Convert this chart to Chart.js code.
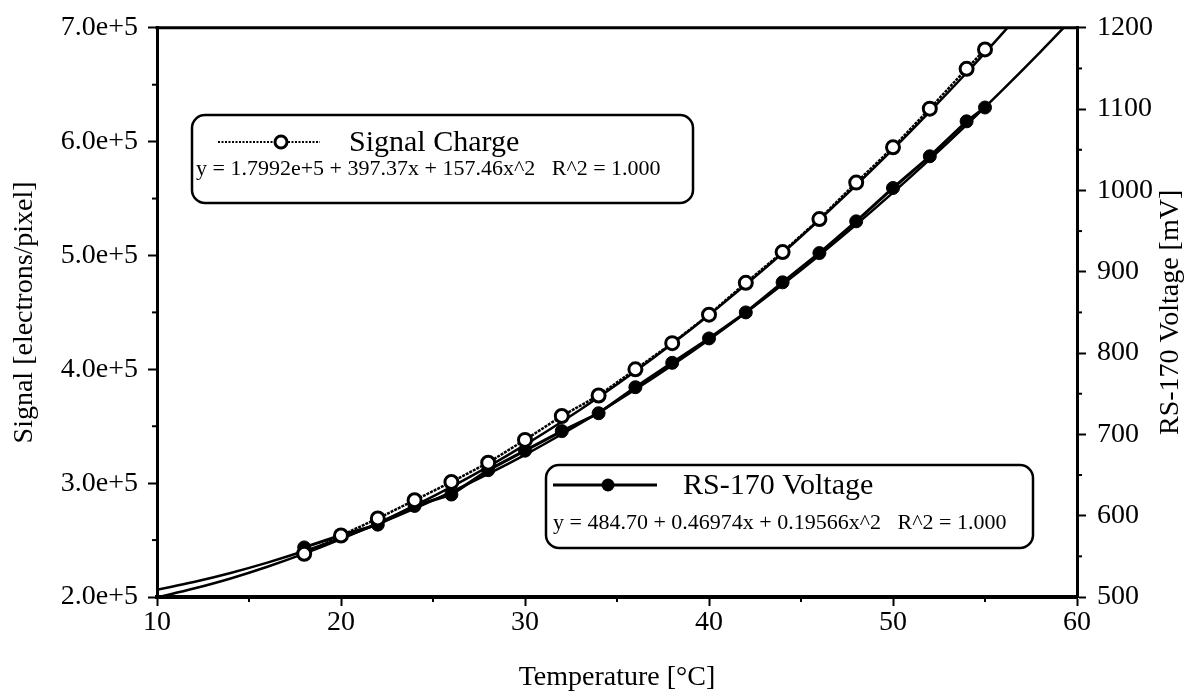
<!DOCTYPE html>
<html>
<head>
<meta charset="utf-8">
<script src="https://cdn.jsdelivr.net/npm/chart.js@4/dist/chart.umd.min.js"></script>
<style>
  html, body { margin: 0; padding: 0; background: #fff; }
  #wrap { width: 1188px; height: 694px; }
</style>
</head>
<body>
<div id="wrap"><canvas id="chart" width="1188" height="694"></canvas></div>
<script>
// Measured temperatures [°C]
const temps = [18, 20, 22, 24, 26, 28, 30, 32, 34, 36, 38, 40, 42, 44, 46, 48, 50, 52, 54, 55];
// Signal charge [electrons/pixel]
const signalCharge = [238000, 254000, 269000, 285000, 301000, 318000, 338000, 359000, 377000, 400000,
                      423000, 448000, 476000, 503000, 532000, 564000, 595000, 629000, 664000, 681000];
// RS-170 output voltage [mV]
const rs170Voltage = [561, 576, 589, 612, 626, 656, 680, 704, 726, 758,
                      788, 818, 850, 887, 923, 962, 1003, 1042, 1085, 1102];

// Quadratic fit curves
const fitTemps = [10, 12, 14, 16, 18, 20, 22, 24, 26, 28, 30, 32, 34, 36, 38, 40, 42, 44, 46, 48, 50, 52, 54, 56, 58, 60];
const signalFit = [199600, 207400, 216300, 226600, 238100, 250900, 264900, 280200, 296700, 314500,
                   333600, 353900, 375500, 398300, 422400, 447800, 474400, 502200, 531400, 561800,
                   593400, 626400, 660500, 696000, 732700, 770600];
const rs170Fit = [509.0, 518.5, 529.6, 542.3, 556.5, 572.4, 589.7, 608.7, 629.2, 651.3,
                  674.9, 700.1, 726.9, 755.2, 785.1, 816.5, 849.6, 884.2, 920.3, 958.0,
                  997.3, 1038.2, 1080.6, 1124.6, 1170.2, 1217.3];

// Axis ranges and labelled ticks
const xRange = [10, 60];
const xMajorTicks = [10, 20, 30, 40, 50, 60];
const signalRange = [200000, 700000];
const signalTickLabels = ['2.0e+5', '3.0e+5', '4.0e+5', '5.0e+5', '6.0e+5', '7.0e+5'];
const voltageRange = [500, 1200];
const voltageMajorTicks = [500, 600, 700, 800, 900, 1000, 1100, 1200];

// Texts
const xTitle = 'Temperature [°C]';
const leftTitle = 'Signal [electrons/pixel]';
const rightTitle = 'RS-170 Voltage [mV]';
const signalLegendTitle = 'Signal Charge';
const signalLegendEq = 'y = 1.7992e+5 + 397.37x + 157.46x^2   R^2 = 1.000';
const rsLegendTitle = 'RS-170 Voltage';
const rsLegendEq = 'y = 484.70 + 0.46974x + 0.19566x^2   R^2 = 1.000';

const SERIF = '"Liberation Serif", "Times New Roman", Times, serif';
const INK = '#000';

const toXY = (xs, ys) => xs.map((x, i) => ({ x: x, y: ys[i] }));

// Short minor ticks outside the frame, the top frame line and the right-hand axis title
const frameAndMinorTicks = {
  id: 'frameAndMinorTicks',
  afterDraw(chart) {
    const { ctx, chartArea: a, scales } = chart;
    ctx.save();
    ctx.strokeStyle = INK;
    ctx.lineWidth = 2;
    const minor = 5;
    scales.x.ticks.forEach(t => {
      if (xMajorTicks.includes(t.value)) return;
      const px = scales.x.getPixelForValue(t.value);
      ctx.beginPath(); ctx.moveTo(px, a.bottom); ctx.lineTo(px, a.bottom + minor); ctx.stroke();
    });
    scales.y.ticks.forEach(t => {
      if (t.value % 100000 === 0) return;
      const py = scales.y.getPixelForValue(t.value);
      ctx.beginPath(); ctx.moveTo(a.left, py); ctx.lineTo(a.left - minor, py); ctx.stroke();
    });
    scales.y1.ticks.forEach(t => {
      if (voltageMajorTicks.includes(t.value)) return;
      const py = scales.y1.getPixelForValue(t.value);
      ctx.beginPath(); ctx.moveTo(a.right, py); ctx.lineTo(a.right + minor, py); ctx.stroke();
    });
    // top frame line
    ctx.lineWidth = 3;
    ctx.beginPath(); ctx.moveTo(a.left - 1.5, a.top); ctx.lineTo(a.right + 1.5, a.top); ctx.stroke();

    // right axis title, reading upwards
    ctx.fillStyle = INK;
    ctx.font = '28px ' + SERIF;
    ctx.textAlign = 'center';
    ctx.textBaseline = 'middle';
    ctx.translate(scales.y1.right - 17, (a.top + a.bottom) / 2);
    ctx.rotate(-Math.PI / 2);
    ctx.fillText(rightTitle, 0, 0);
    ctx.restore();
  }
};

// Boxed legends with the fitted equations
function roundRect(ctx, x, y, w, h, r) {
  ctx.beginPath();
  ctx.moveTo(x + r, y);
  ctx.lineTo(x + w - r, y);
  ctx.arcTo(x + w, y, x + w, y + r, r);
  ctx.lineTo(x + w, y + h - r);
  ctx.arcTo(x + w, y + h, x + w - r, y + h, r);
  ctx.lineTo(x + r, y + h);
  ctx.arcTo(x, y + h, x, y + h - r, r);
  ctx.lineTo(x, y + r);
  ctx.arcTo(x, y, x + r, y, r);
  ctx.closePath();
}

const fitLegends = {
  id: 'fitLegends',
  afterDraw(chart) {
    const ctx = chart.ctx;
    ctx.save();
    ctx.strokeStyle = INK;
    ctx.fillStyle = INK;
    ctx.textBaseline = 'middle';
    ctx.textAlign = 'left';

    // Signal Charge box
    ctx.lineWidth = 2.5;
    roundRect(ctx, 192, 115, 501, 88, 13);
    ctx.fillStyle = '#fff'; ctx.fill(); ctx.fillStyle = INK; ctx.stroke();
    ctx.lineWidth = 2;
    ctx.setLineDash([2, 1.5]);
    ctx.beginPath(); ctx.moveTo(218, 142); ctx.lineTo(320, 142); ctx.stroke();
    ctx.setLineDash([]);
    ctx.lineWidth = 3;
    ctx.beginPath(); ctx.arc(281, 142, 6, 0, Math.PI * 2);
    ctx.fillStyle = '#fff'; ctx.fill(); ctx.stroke(); ctx.fillStyle = INK;
    ctx.font = '30px ' + SERIF;
    ctx.fillText(signalLegendTitle, 349, 143);
    ctx.font = '22px ' + SERIF;
    ctx.fillText(signalLegendEq, 196, 169);

    // RS-170 Voltage box
    ctx.lineWidth = 2.5;
    roundRect(ctx, 546, 465, 487, 83, 13);
    ctx.fillStyle = '#fff'; ctx.fill(); ctx.fillStyle = INK; ctx.stroke();
    ctx.lineWidth = 3;
    ctx.beginPath(); ctx.moveTo(553, 485); ctx.lineTo(657, 485); ctx.stroke();
    ctx.beginPath(); ctx.arc(608, 485, 6.5, 0, Math.PI * 2); ctx.fill();
    ctx.font = '30px ' + SERIF;
    ctx.fillText(rsLegendTitle, 683, 486);
    ctx.font = '22px ' + SERIF;
    ctx.fillText(rsLegendEq, 553, 523);
    ctx.restore();
  }
};

new Chart(document.getElementById('chart'), {
  type: 'scatter',
  data: {
    datasets: [
      {
        label: signalLegendTitle,
        data: toXY(temps, signalCharge),
        yAxisID: 'y',
        showLine: true,
        borderColor: INK,
        borderWidth: 2.5,
        borderDash: [3, 1],
        pointStyle: 'circle',
        pointRadius: 6.5,
        pointBorderWidth: 3,
        pointBorderColor: INK,
        pointBackgroundColor: '#fff',
        tension: 0
      },
      {
        label: rsLegendTitle,
        data: toXY(temps, rs170Voltage),
        yAxisID: 'y1',
        showLine: true,
        borderColor: INK,
        borderWidth: 3,
        pointStyle: 'circle',
        pointRadius: 6.5,
        pointBorderWidth: 1,
        pointBorderColor: INK,
        pointBackgroundColor: INK,
        tension: 0
      },
      {
        label: 'Signal Charge fit',
        data: toXY(fitTemps, signalFit),
        yAxisID: 'y',
        showLine: true,
        borderColor: INK,
        borderWidth: 2.5,
        pointRadius: 0,
        tension: 0.4
      },
      {
        label: 'RS-170 Voltage fit',
        data: toXY(fitTemps, rs170Fit),
        yAxisID: 'y1',
        showLine: true,
        borderColor: INK,
        borderWidth: 2.5,
        pointRadius: 0,
        tension: 0.4
      }
    ]
  },
  options: {
    responsive: false,
    animation: false,
    devicePixelRatio: 1,
    layout: { padding: { top: 17, left: 0, right: 0, bottom: 0 } },
    plugins: {
      legend: { display: false },
      tooltip: { enabled: false }
    },
    scales: {
      x: {
        type: 'linear',
        min: xRange[0],
        max: xRange[1],
        afterFit: s => { s.height = 97; },
        border: { display: true, color: INK, width: 4 },
        grid: {
          drawOnChartArea: false,
          drawTicks: true,
          tickLength: 9,
          tickWidth: 2,
          tickColor: c => (xMajorTicks.includes(c.tick.value) ? INK : 'rgba(0,0,0,0)')
        },
        ticks: {
          stepSize: 5,
          autoSkip: false,
          maxRotation: 0,
          padding: 0,
          color: INK,
          font: { family: SERIF, size: 28 },
          callback: v => (xMajorTicks.includes(v) ? String(v) : '')
        },
        title: {
          display: true,
          text: xTitle,
          color: INK,
          font: { family: SERIF, size: 28 },
          padding: { top: 0, bottom: 0 }
        }
      },
      y: {
        type: 'linear',
        position: 'left',
        min: signalRange[0],
        max: signalRange[1],
        afterFit: s => { s.width = 157; },
        border: { display: true, color: INK, width: 3 },
        grid: {
          drawOnChartArea: false,
          drawTicks: true,
          tickLength: 9,
          tickWidth: 2,
          tickColor: c => (c.tick.value % 100000 === 0 ? INK : 'rgba(0,0,0,0)')
        },
        ticks: {
          stepSize: 50000,
          autoSkip: false,
          padding: 10,
          color: INK,
          font: { family: SERIF, size: 28 },
          callback: v => (v % 100000 === 0 ? signalTickLabels[(v - signalRange[0]) / 100000] : '')
        },
        title: {
          display: true,
          text: leftTitle,
          color: INK,
          font: { family: SERIF, size: 28 },
          padding: { top: 8, bottom: 0 }
        }
      },
      y1: {
        type: 'linear',
        position: 'right',
        min: voltageRange[0],
        max: voltageRange[1],
        afterFit: s => { s.width = 111; },
        border: { display: true, color: INK, width: 3 },
        grid: {
          drawOnChartArea: false,
          drawTicks: true,
          tickLength: 9,
          tickWidth: 2,
          tickColor: c => (voltageMajorTicks.includes(c.tick.value) ? INK : 'rgba(0,0,0,0)')
        },
        ticks: {
          stepSize: 50,
          autoSkip: false,
          padding: 11,
          color: INK,
          font: { family: SERIF, size: 28 },
          callback: v => (voltageMajorTicks.includes(v) ? String(v) : '')
        },
        title: { display: false }
      }
    }
  },
  plugins: [frameAndMinorTicks, fitLegends]
});
</script>
</body>
</html>
